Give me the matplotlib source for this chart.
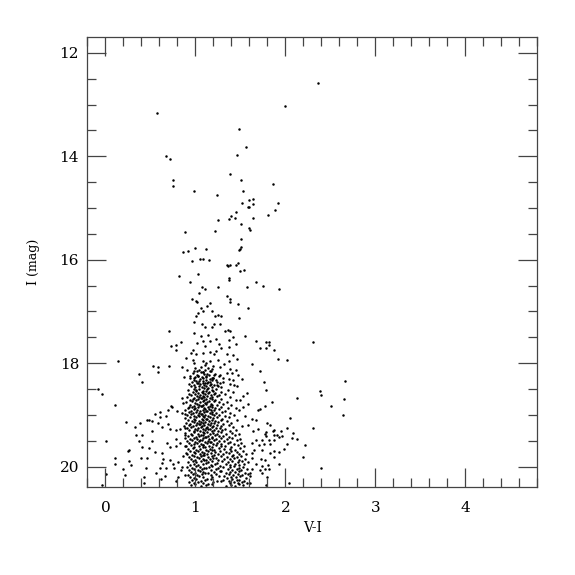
import numpy as np
import matplotlib
matplotlib.use("Agg")
import matplotlib.pyplot as plt
from matplotlib.ticker import MultipleLocator

# (V-I, I) pairs, grouped by region of the CMD
bright = [
    (2.36, 12.59), (2.00, 13.03), (0.57, 13.16), (1.48, 13.48), (1.56, 13.83),
    (0.67, 13.99), (0.72, 14.05), (1.46, 13.98), (1.38, 14.35), (1.51, 14.45),
    (0.75, 14.46), (0.75, 14.57), (1.86, 14.54), (0.99, 14.68), (1.24, 14.75),
    (1.53, 14.67), (1.64, 14.82), (1.60, 14.84), (1.52, 14.91), (1.64, 14.93),
    (1.92, 14.91), (1.60, 14.98), (1.58, 14.99), (1.88, 15.04), (1.45, 15.08),
    (1.40, 15.15), (1.81, 15.14), (1.37, 15.21), (1.44, 15.20), (1.64, 15.20),
    (1.25, 15.24), (1.51, 15.31), (1.60, 15.38), (1.61, 15.43), (1.22, 15.45),
    (0.88, 15.47), (1.51, 15.60), (1.00, 15.77), (1.51, 15.76), (1.50, 15.79),
    (1.48, 15.81), (1.12, 15.79), (0.92, 15.84), (0.86, 15.86), (0.96, 16.03),
    (1.05, 15.99), (1.09, 15.99), (1.15, 16.00), (1.35, 16.10), (1.36, 16.12),
    (1.38, 16.10), (1.45, 16.11), (1.47, 16.06), (1.54, 16.19), (1.50, 16.22),
    (1.03, 16.27), (0.82, 16.32), (1.37, 16.36),
]

subgiant = [
    (1.67, 16.44), (1.75, 16.50), (1.93, 16.57), (1.57, 16.52), (1.37, 16.40),
    (0.94, 16.44), (1.07, 16.52), (1.11, 16.57), (1.25, 16.53), (1.04, 16.65),
    (0.96, 16.76), (1.01, 16.80), (1.02, 16.82), (1.35, 16.70), (1.38, 16.75),
    (1.39, 16.82), (1.47, 16.85), (1.16, 16.84), (1.13, 16.89), (1.06, 16.93),
    (1.18, 16.99), (1.09, 17.00), (1.03, 17.03), (1.01, 17.09), (1.58, 16.94),
    (1.22, 17.08), (1.25, 17.07), (1.28, 17.09), (0.99, 17.20), (1.49, 17.12),
    (1.07, 17.24), (1.21, 17.25), (1.27, 17.25), (1.11, 17.30), (1.18, 17.31),
    (1.36, 17.36), (1.39, 17.38), (1.33, 17.38), (0.71, 17.38), (0.98, 17.41),
    (1.14, 17.45), (1.06, 17.48), (1.42, 17.49), (1.55, 17.48), (1.67, 17.58),
    (1.78, 17.60), (1.82, 17.60), (0.84, 17.60), (0.78, 17.65), (0.73, 17.67),
    (0.79, 17.74), (1.09, 17.58), (1.16, 17.58), (1.23, 17.53), (1.02, 17.61),
    (1.11, 17.67), (1.26, 17.63), (1.28, 17.70), (1.37, 17.56), (1.37, 17.69),
    (1.45, 17.62), (1.72, 17.70), (1.79, 17.71), (1.87, 17.74), (0.97, 17.75),
    (1.16, 17.78), (1.23, 17.76), (0.95, 17.80), (1.01, 17.83), (1.09, 17.81),
    (1.21, 17.83), (1.35, 17.83), (1.42, 17.85), (1.46, 17.91), (0.90, 17.90),
    (0.97, 17.93), (1.92, 17.91), (2.02, 17.94), (1.08, 17.96), (1.16, 17.96),
    (1.25, 17.93), (1.37, 17.96), (0.98, 17.99), (1.12, 17.99), (1.32, 18.02),
    (1.63, 18.01), (0.53, 18.05), (0.59, 18.07), (0.71, 18.05), (0.85, 18.08),
    (0.59, 18.18), (1.00, 18.09), (1.06, 18.08), (1.11, 18.03), (1.14, 18.09),
    (1.20, 18.06), (1.27, 18.07), (1.38, 18.12), (1.45, 18.14), (1.72, 18.15),
    (0.91, 18.14), (1.02, 18.16), (1.09, 18.17), (1.17, 18.16), (1.22, 18.20),
    (1.27, 18.22), (1.41, 18.19), (1.47, 18.23), (0.87, 18.27), (0.94, 18.24),
    (0.98, 18.29), (1.03, 18.25), (1.12, 18.26), (1.20, 18.28), (1.31, 18.28),
    (1.37, 18.30), (1.42, 18.32), (1.76, 18.37), (1.03, 18.38), (1.11, 18.39),
    (1.16, 18.37), (1.24, 18.43), (1.28, 18.46), (1.43, 18.43),
]

field_red = [
    (1.82, 17.65), (2.31, 17.59), (2.66, 18.34), (1.78, 18.52), (2.39, 18.54),
    (2.40, 18.62), (2.13, 18.68), (2.65, 18.70), (1.85, 18.75), (1.77, 18.82),
    (1.72, 18.88), (2.51, 18.82), (2.64, 19.00), (2.05, 19.06), (1.80, 19.15),
    (1.83, 19.20), (1.87, 19.29), (2.02, 19.26), (2.31, 19.26), (1.95, 19.32),
    (1.77, 19.36), (1.78, 19.40), (1.87, 19.39), (2.08, 19.35), (1.93, 19.43),
    (1.96, 19.41), (2.07, 19.45), (2.13, 19.47), (1.87, 19.49), (1.76, 19.56),
    (1.83, 19.56), (2.02, 19.56), (2.22, 19.58), (1.98, 19.65), (1.70, 18.91),
    (1.57, 18.58), (1.53, 18.63), (1.50, 18.71), (1.59, 18.78), (1.53, 18.84),
    (1.45, 18.86), (1.55, 19.02), (1.63, 19.07), (1.67, 19.09), (1.58, 19.20),
    (1.70, 19.27), (1.64, 19.31), (1.79, 19.33), (1.86, 19.31), (1.91, 19.38),
    (2.20, 19.81), (2.40, 20.03), (2.04, 20.31), (1.93, 19.94), (1.82, 19.49),
    (1.74, 19.49), (1.67, 19.48), (1.63, 19.54), (1.71, 19.58), (1.65, 19.67),
    (1.74, 19.67), (1.87, 19.70), (1.93, 19.72), (1.63, 19.73), (1.83, 19.74),
    (1.63, 19.83), (1.73, 19.86), (1.77, 19.87), (1.87, 19.81), (1.67, 19.94),
    (1.74, 19.99), (1.81, 19.97), (1.63, 20.05), (1.72, 20.07), (1.77, 20.05),
    (1.82, 20.05), (1.61, 20.12), (1.74, 20.12), (1.61, 20.18), (1.80, 20.21),
    (1.61, 20.31), (1.79, 20.36),
]

field_blue = [
    (0.14, 17.96), (0.37, 18.20), (0.41, 18.37), (-0.08, 18.50), (-0.04, 18.59),
    (0.11, 18.80), (0.73, 18.82), (0.23, 19.14), (0.33, 19.23), (0.34, 19.38),
    (0.39, 19.16), (0.46, 19.09), (0.49, 19.10), (0.52, 19.12), (0.61, 18.95),
    (0.55, 18.99), (0.61, 19.04), (0.59, 19.15), (0.67, 19.03), (0.70, 18.90),
    (0.80, 18.93), (0.85, 18.96), (0.70, 19.17), (0.72, 19.28), (0.78, 19.29),
    (0.83, 19.28), (0.63, 19.23), (0.52, 19.31), (0.37, 19.50), (0.41, 19.38),
    (0.01, 19.50), (0.52, 19.50), (0.26, 19.67), (0.25, 19.69), (0.41, 19.63),
    (0.48, 19.64), (0.55, 19.71), (0.68, 19.55), (0.72, 19.63), (0.79, 19.47),
    (0.78, 19.60), (0.83, 19.54), (0.63, 19.74), (0.11, 19.84), (0.11, 19.94),
    (0.26, 19.89), (0.29, 19.96), (0.40, 19.83), (0.46, 19.83), (0.64, 19.85),
    (0.63, 19.93), (0.72, 19.87), (0.75, 19.94), (0.81, 19.91), (0.85, 20.00),
    (0.20, 20.05), (0.22, 20.17), (0.45, 20.03), (0.61, 20.03), (0.67, 20.03),
    (0.56, 20.12), (0.66, 20.18), (0.76, 20.03), (0.01, 20.14), (0.43, 20.21),
    (0.43, 20.31), (0.62, 20.23), (0.81, 20.21), (-0.04, 20.35), (0.78, 20.28),
    (0.84, 20.06), (0.88, 20.16), (0.86, 18.77), (0.85, 18.67), (0.74, 18.85),
    (0.93, 18.84), (0.88, 18.99), (0.88, 19.25), (0.88, 19.38), (0.89, 19.60),
    (0.90, 19.73), (0.86, 19.80),
]

# dense main-sequence turnoff / lower giant branch clump
core = [
    (0.99, 18.15), (1.04, 18.13), (1.06, 18.17), (1.11, 18.14), (1.16, 18.16), (1.19, 18.12),
    (0.97, 18.19), (1.02, 18.22), (1.08, 18.18), (1.10, 18.21), (1.13, 18.20), (1.21, 18.23), (1.35, 18.19),
    (1.00, 18.26), (1.03, 18.24), (1.07, 18.27), (1.12, 18.25), (1.15, 18.23), (1.18, 18.28), (1.26, 18.25),
    (0.94, 18.29), (0.98, 18.32), (1.05, 18.30), (1.09, 18.28), (1.12, 18.33), (1.16, 18.31), (1.20, 18.29),
    (1.23, 18.32), (1.52, 18.30),
    (0.96, 18.37), (1.01, 18.35), (1.04, 18.34), (1.08, 18.38), (1.09, 18.35), (1.14, 18.36), (1.19, 18.33),
    (1.24, 18.37), (1.31, 18.36),
    (0.93, 18.40), (0.99, 18.42), (1.02, 18.39), (1.05, 18.41), (1.10, 18.43), (1.13, 18.39), (1.17, 18.41),
    (1.21, 18.42), (1.27, 18.39), (1.39, 18.41),
    (0.95, 18.45), (1.00, 18.47), (1.04, 18.44), (1.07, 18.46), (1.10, 18.48), (1.12, 18.45), (1.16, 18.43),
    (1.19, 18.47), (1.25, 18.45), (1.46, 18.44),
    (0.92, 18.51), (0.98, 18.49), (1.01, 18.52), (1.04, 18.50), (1.08, 18.53), (1.13, 18.50), (1.14, 18.48),
    (1.18, 18.52), (1.23, 18.50), (1.36, 18.51),
    (0.97, 18.56), (1.01, 18.54), (1.03, 18.57), (1.07, 18.55), (1.09, 18.58), (1.12, 18.54), (1.15, 18.56),
    (1.20, 18.53), (1.22, 18.57), (1.29, 18.55), (1.42, 18.56),
    (0.93, 18.60), (0.95, 18.62), (1.00, 18.59), (1.05, 18.61), (1.08, 18.63), (1.11, 18.60), (1.14, 18.58),
    (1.17, 18.62), (1.21, 18.60), (1.26, 18.61), (1.33, 18.59),
    (0.91, 18.65), (0.98, 18.67), (1.02, 18.64), (1.04, 18.66), (1.07, 18.68), (1.10, 18.65), (1.13, 18.63),
    (1.16, 18.67), (1.19, 18.66), (1.24, 18.64), (1.38, 18.66),
    (0.94, 18.71), (0.97, 18.69), (1.01, 18.72), (1.03, 18.70), (1.06, 18.68), (1.10, 18.72), (1.12, 18.70),
    (1.15, 18.73), (1.18, 18.69), (1.22, 18.71), (1.29, 18.70), (1.45, 18.72),
    (0.90, 18.76), (0.96, 18.74), (1.00, 18.77), (1.05, 18.75), (1.08, 18.73), (1.11, 18.77), (1.13, 18.75),
    (1.17, 18.78), (1.21, 18.74), (1.26, 18.76), (1.35, 18.75),
    (0.94, 18.80), (0.98, 18.82), (1.02, 18.79), (1.04, 18.81), (1.07, 18.83), (1.09, 18.80), (1.12, 18.78),
    (1.16, 18.82), (1.19, 18.80), (1.24, 18.81), (1.31, 18.79), (1.40, 18.81),
    (0.92, 18.86), (0.96, 18.84), (1.00, 18.87), (1.03, 18.85), (1.06, 18.83), (1.10, 18.87), (1.14, 18.85),
    (1.15, 18.88), (1.18, 18.84), (1.22, 18.86), (1.28, 18.85), (1.36, 18.87),
    (0.89, 18.90), (0.95, 18.92), (0.99, 18.89), (1.02, 18.91), (1.05, 18.93), (1.08, 18.90), (1.11, 18.88),
    (1.13, 18.92), (1.17, 18.90), (1.21, 18.91), (1.26, 18.89), (1.33, 18.92), (1.49, 18.90),
    (0.93, 18.95), (0.97, 18.97), (1.01, 18.94), (1.04, 18.96), (1.07, 18.98), (1.10, 18.95), (1.12, 18.93),
    (1.16, 18.97), (1.19, 18.95), (1.23, 18.96), (1.30, 18.94), (1.38, 18.96),
    (0.91, 19.01), (0.95, 18.99), (0.99, 19.02), (1.03, 19.00), (1.06, 18.98), (1.08, 19.02), (1.11, 19.00),
    (1.14, 19.03), (1.18, 18.99), (1.21, 19.01), (1.26, 19.00), (1.33, 19.02), (1.43, 19.00),
    (0.88, 19.06), (0.94, 19.04), (0.98, 19.07), (1.01, 19.05), (1.04, 19.03), (1.07, 19.07), (1.10, 19.05),
    (1.13, 19.08), (1.16, 19.04), (1.20, 19.06), (1.24, 19.05), (1.30, 19.07), (1.37, 19.04),
    (0.92, 19.10), (0.96, 19.12), (1.00, 19.09), (1.04, 19.11), (1.06, 19.13), (1.09, 19.10), (1.12, 19.08),
    (1.15, 19.12), (1.18, 19.10), (1.22, 19.11), (1.28, 19.09), (1.35, 19.12), (1.46, 19.10),
    (0.90, 19.15), (0.94, 19.17), (0.99, 19.14), (1.02, 19.16), (1.05, 19.18), (1.08, 19.15), (1.11, 19.13),
    (1.14, 19.17), (1.17, 19.15), (1.21, 19.16), (1.25, 19.14), (1.31, 19.17), (1.40, 19.15),
    (0.87, 19.21), (0.93, 19.19), (0.97, 19.22), (1.01, 19.20), (1.04, 19.18), (1.07, 19.22), (1.10, 19.20),
    (1.13, 19.23), (1.16, 19.19), (1.20, 19.21), (1.24, 19.20), (1.29, 19.22), (1.37, 19.19), (1.52, 19.21),
    (0.91, 19.26), (0.95, 19.24), (1.00, 19.27), (1.03, 19.25), (1.06, 19.23), (1.09, 19.27), (1.12, 19.25),
    (1.16, 19.28), (1.19, 19.24), (1.23, 19.26), (1.27, 19.25), (1.33, 19.27), (1.42, 19.24),
    (0.93, 19.30), (0.98, 19.32), (1.02, 19.29), (1.05, 19.31), (1.08, 19.33), (1.11, 19.30), (1.14, 19.28),
    (1.18, 19.32), (1.21, 19.30), (1.25, 19.31), (1.30, 19.29), (1.38, 19.32), (1.45, 19.30),
    (0.89, 19.35), (0.95, 19.37), (0.99, 19.34), (1.03, 19.36), (1.06, 19.38), (1.10, 19.35), (1.13, 19.33),
    (1.16, 19.37), (1.20, 19.35), (1.24, 19.36), (1.29, 19.34), (1.34, 19.37), (1.41, 19.35), (1.49, 19.36),
    (0.92, 19.41), (0.96, 19.39), (1.01, 19.42), (1.04, 19.40), (1.08, 19.38), (1.11, 19.42), (1.14, 19.40),
    (1.18, 19.43), (1.22, 19.39), (1.26, 19.41), (1.31, 19.40), (1.37, 19.42), (1.44, 19.39),
    (0.89, 19.45), (0.94, 19.47), (0.98, 19.44), (1.02, 19.46), (1.05, 19.48), (1.09, 19.45), (1.12, 19.43),
    (1.15, 19.47), (1.19, 19.45), (1.23, 19.46), (1.28, 19.44), (1.35, 19.47), (1.41, 19.45), (1.50, 19.46),
    (0.91, 19.51), (0.96, 19.49), (1.00, 19.52), (1.04, 19.50), (1.07, 19.48), (1.11, 19.52), (1.14, 19.50),
    (1.17, 19.53), (1.21, 19.49), (1.26, 19.51), (1.32, 19.50), (1.39, 19.52), (1.46, 19.49),
    (0.93, 19.55), (0.98, 19.57), (1.02, 19.54), (1.06, 19.56), (1.09, 19.58), (1.13, 19.55), (1.16, 19.53),
    (1.20, 19.57), (1.24, 19.55), (1.29, 19.56), (1.36, 19.54), (1.43, 19.57), (1.51, 19.55),
    (0.90, 19.61), (0.95, 19.59), (0.99, 19.62), (1.04, 19.60), (1.08, 19.58), (1.11, 19.62), (1.15, 19.60),
    (1.19, 19.63), (1.23, 19.59), (1.28, 19.61), (1.33, 19.60), (1.40, 19.62), (1.47, 19.59), (1.54, 19.61),
    (0.92, 19.66), (0.97, 19.64), (1.01, 19.67), (1.05, 19.65), (1.09, 19.63), (1.12, 19.67), (1.16, 19.65),
    (1.21, 19.68), (1.26, 19.64), (1.32, 19.66), (1.38, 19.65), (1.44, 19.67), (1.50, 19.64),
    (0.94, 19.70), (0.99, 19.72), (1.03, 19.69), (1.07, 19.71), (1.10, 19.73), (1.14, 19.70), (1.18, 19.68),
    (1.22, 19.72), (1.27, 19.70), (1.34, 19.71), (1.40, 19.69), (1.46, 19.72), (1.53, 19.70),
    (0.91, 19.75), (0.96, 19.77), (1.00, 19.74), (1.05, 19.76), (1.09, 19.78), (1.13, 19.75), (1.17, 19.73),
    (1.21, 19.77), (1.25, 19.75), (1.31, 19.76), (1.37, 19.74), (1.42, 19.77), (1.48, 19.75), (1.56, 19.76),
    (0.93, 19.81), (0.98, 19.79), (1.02, 19.82), (1.06, 19.80), (1.10, 19.78), (1.14, 19.82), (1.18, 19.80),
    (1.23, 19.83), (1.28, 19.79), (1.35, 19.81), (1.41, 19.80), (1.46, 19.82), (1.51, 19.79),
    (0.95, 19.85), (1.00, 19.87), (1.04, 19.84), (1.08, 19.86), (1.12, 19.88), (1.16, 19.85), (1.20, 19.83),
    (1.25, 19.87), (1.32, 19.85), (1.38, 19.86), (1.43, 19.84), (1.48, 19.87), (1.55, 19.85),
    (0.92, 19.91), (0.97, 19.89), (1.01, 19.92), (1.06, 19.90), (1.10, 19.88), (1.14, 19.92), (1.19, 19.90),
    (1.24, 19.93), (1.30, 19.89), (1.36, 19.91), (1.41, 19.90), (1.47, 19.92), (1.52, 19.89), (1.59, 19.91),
    (0.94, 19.96), (0.99, 19.94), (1.03, 19.97), (1.08, 19.95), (1.12, 19.93), (1.17, 19.97), (1.22, 19.95),
    (1.27, 19.98), (1.34, 19.94), (1.39, 19.96), (1.44, 19.95), (1.49, 19.97), (1.54, 19.94),
    (0.91, 20.00), (0.96, 20.02), (1.01, 19.99), (1.05, 20.01), (1.10, 20.03), (1.15, 20.00), (1.19, 19.98),
    (1.25, 20.02), (1.31, 20.00), (1.38, 20.01), (1.43, 19.99), (1.48, 20.02), (1.53, 20.00),
    (0.93, 20.06), (0.98, 20.04), (1.03, 20.07), (1.07, 20.05), (1.12, 20.03), (1.17, 20.07), (1.23, 20.05),
    (1.29, 20.08), (1.36, 20.04), (1.41, 20.06), (1.46, 20.05), (1.51, 20.07), (1.57, 20.04),
    (0.95, 20.10), (1.00, 20.12), (1.05, 20.09), (1.09, 20.11), (1.14, 20.13), (1.21, 20.10), (1.27, 20.08),
    (1.34, 20.12), (1.39, 20.10), (1.44, 20.11), (1.49, 20.09), (1.55, 20.12),
    (0.92, 20.16), (0.97, 20.14), (1.02, 20.17), (1.07, 20.15), (1.11, 20.13), (1.17, 20.17), (1.23, 20.15),
    (1.32, 20.18), (1.37, 20.14), (1.42, 20.16), (1.47, 20.15), (1.52, 20.17), (1.59, 20.14),
    (0.94, 20.20), (0.99, 20.22), (1.04, 20.19), (1.09, 20.21), (1.13, 20.23), (1.19, 20.20), (1.26, 20.18),
    (1.35, 20.22), (1.40, 20.20), (1.45, 20.21), (1.50, 20.19), (1.56, 20.22),
    (0.96, 20.26), (1.01, 20.24), (1.06, 20.27), (1.11, 20.25), (1.17, 20.23), (1.24, 20.27), (1.31, 20.25),
    (1.37, 20.28), (1.41, 20.24), (1.46, 20.26), (1.49, 20.25), (1.54, 20.27),
    (0.93, 20.30), (0.98, 20.32), (1.03, 20.29), (1.08, 20.31), (1.14, 20.33), (1.20, 20.30), (1.28, 20.28),
    (1.39, 20.32), (1.43, 20.30), (1.47, 20.31), (1.52, 20.29), (1.57, 20.32),
    (0.95, 20.36), (1.00, 20.34), (1.06, 20.37), (1.12, 20.35), (1.19, 20.33), (1.34, 20.37), (1.40, 20.35),
    (1.44, 20.38), (1.48, 20.34), (1.53, 20.36),
]

groups = [bright, subgiant, field_red, field_blue, core]
pts = np.array([p for g in groups for p in g])
vi = pts[:, 0]
imag = pts[:, 1]

plt.rcParams["font.family"] = "DejaVu Serif"
fig = plt.figure(figsize=(5.75, 5.75), dpi=100)
ax = fig.add_axes([0.152, 0.1525, 0.7826, 0.7826])

ax.scatter(vi, imag, s=3.2, color="black", marker="o", linewidths=0)

ax.set_xlim(-0.2, 4.8)
ax.set_ylim(20.4, 11.7)

ax.xaxis.set_major_locator(MultipleLocator(1))
ax.xaxis.set_minor_locator(MultipleLocator(0.2))
ax.yaxis.set_major_locator(MultipleLocator(2))
ax.yaxis.set_minor_locator(MultipleLocator(0.5))

for sp in ax.spines.values():
    sp.set_color("#444444")
    sp.set_linewidth(0.9)

ax.tick_params(which="both", direction="in", top=True, right=True, color="#444444", width=0.9)
ax.tick_params(which="major", length=13.5, labelsize=11)
ax.tick_params(axis="x", which="major", pad=10)
ax.tick_params(axis="y", which="major", pad=6)
ax.tick_params(which="minor", length=6.8)

ax.set_xlabel("V-I", fontsize=10)
ax.set_ylabel("I (mag)", fontsize=9)
ax.xaxis.set_label_coords(0.5, -0.074)
ax.yaxis.set_label_coords(-0.105, 0.5)

fig.savefig("out.png", dpi=100)
